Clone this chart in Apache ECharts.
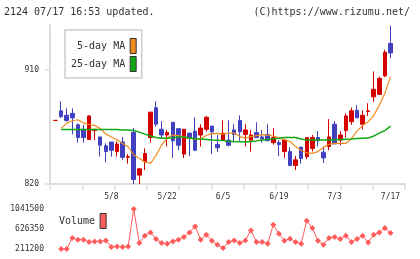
<!DOCTYPE html>
<html>
<head>
<meta charset="utf-8">
<script src="https://cdn.jsdelivr.net/npm/echarts@6/dist/echarts.min.js"></script>
<style>
html, body { margin: 0; padding: 0; background: #fff; }
#chart { width: 420px; height: 259px; }
</style>
</head>
<body>
<div id="chart"></div>
<script>
// trading days shown on the chart
const dates = ['4/21', '4/22', '4/23', '4/24', '4/25', '4/28', '4/30', '5/1', '5/2', '5/7',
  '5/8', '5/9', '5/12', '5/13', '5/14', '5/15', '5/16', '5/19', '5/20', '5/21',
  '5/22', '5/23', '5/26', '5/27', '5/28', '5/29', '5/30', '6/2', '6/3', '6/4',
  '6/5', '6/6', '6/9', '6/10', '6/11', '6/12', '6/13', '6/16', '6/17', '6/18',
  '6/19', '6/20', '6/23', '6/24', '6/25', '6/26', '6/27', '6/30', '7/1', '7/2',
  '7/3', '7/4', '7/7', '7/8', '7/9', '7/10', '7/11', '7/14', '7/15', '7/16', '7/17']
const dateLabels = ['5/8', '5/22', '6/5', '6/19', '7/3', '7/17']

// [open, close, low, high]
const ohlc = [
  [870, 870, 870, 870], [877.5, 873, 872, 885], [874, 870, 869, 879.5], [875.5, 872, 859, 879.5],
  [866.5, 856.5, 852.5, 867.5], [863, 856.5, 852.5, 866.5], [855, 873.5, 855, 874], [862, 863, 854.5, 863],
  [857, 850.5, 841.5, 857], [850, 845.5, 837, 852], [853, 846.5, 841.5, 853], [845.5, 851.5, 841.5, 853.5],
  [853, 841, 839, 857], [841, 841.5, 836, 843.5], [860.5, 823.5, 820, 864], [827, 832, 820, 832],
  [837.5, 844, 831, 848], [856.5, 876.5, 852.5, 876.5], [880, 867, 865, 885], [863, 858.5, 856, 869.5],
  [858.5, 860.5, 849.5, 862.5], [868.5, 854, 840.5, 868.5], [863.5, 850.5, 846.5, 863.5], [843.5, 863, 840.5, 863],
  [860, 856, 842, 860], [861.5, 846.5, 846.5, 872.5], [858.5, 864, 849.5, 867], [863, 872.5, 861, 873.5],
  [865.5, 861, 843.5, 865.5], [851, 848.5, 845, 858.5], [854.5, 860, 854.5, 870], [854.5, 850.5, 849.5, 870],
  [862.5, 859, 852.5, 867], [870, 861, 854, 874], [859, 862.5, 849.5, 867], [854.5, 858.5, 845.5, 862.5],
  [860.5, 856.5, 856.5, 868.5], [857, 855.5, 852.5, 862.5], [859, 854, 854, 867], [852.5, 856.5, 851, 864],
  [852.5, 851, 842, 854.5], [845.5, 854.5, 840.5, 854.5], [845.5, 834.5, 834.5, 849], [834.5, 839, 831, 842],
  [849, 840, 836, 849], [841.5, 856.5, 839.5, 856.5], [848, 856.5, 845.5, 858.5], [856.5, 854, 849.5, 861.5],
  [845, 840.5, 836.5, 849.5], [849.5, 857, 846.5, 871], [867, 851.5, 851.5, 869.5], [854.5, 858.5, 850.5, 861.5],
  [862, 873.5, 856.5, 875.5], [869, 877.5, 866.5, 880], [878, 872, 872, 882], [867, 874, 863, 878],
  [877, 877.5, 873.5, 883.5], [888.5, 894.5, 884.5, 908.5], [890.5, 903, 890, 904.5], [905, 923.5, 904, 925.5],
  [930.5, 923, 919, 944.5]
]

const ma5 = [null, 863.7, 867.9, 869.7, 870.5, 868.1, 866.8, 866.1, 863.7, 859.2,
  856.9, 854.8, 851.9, 849.3, 842.8, 840.2, 837.3, 836.2, 842.4, 850.6,
  856.1, 858.5, 858.1, 856.9, 856.1, 855.3, 855.7, 858.1, 859.6, 859.8,
  859.2, 860, 860, 857.3, 856.1, 857.3, 858.1, 858.8, 858.5, 857.7,
  856.3, 854.9, 853.4, 849.4, 846.3, 844.5, 844.1, 845.5, 849, 851.2,
  851.9, 851.9, 851.9, 855.7, 861.6, 865.9, 868.9, 873.8, 882, 891.4, 904.4]

const ma25 = [null, 862.8, 862.8, 862.8, 862.8, 862.8, 862.8, 862.8, 862.8, 862.8,
  862.8, 862.8, 862.5, 862.4, 862, 860.8, 859.2, 857.7, 856.6, 855.9,
  855.9, 856.3, 856.9, 856.9, 856.1, 855.5, 855.3, 854.9, 854.5, 854.4,
  854.1, 853.7, 853.4, 853.2, 853, 853.5, 853.9, 854.5, 854.9, 855.5,
  855.9, 856.5, 856.6, 856.5, 855.3, 854.5, 854.5, 854.5, 854.5, 854.5,
  854.5, 854.9, 855.2, 855.3, 855.7, 855.9, 856.1, 857.7, 860, 862, 865.5]

const volume = [null, 211200, 211200, 439500, 404200, 404200, 356500, 369000, 369000, 389700,
  252700, 265200, 252700, 265200, 1041500, 335700, 487300, 555800, 418800, 335700,
  321200, 369000, 404200, 460300, 555800, 680300, 404200, 508000, 383500, 300500,
  232000, 356500, 389700, 335700, 389700, 597300, 356500, 356500, 321200, 715600,
  528800, 383500, 425000, 356500, 321200, 798600, 647100, 383500, 300500, 439500,
  460300, 418800, 487300, 356500, 418800, 487300, 348200, 508000, 555800, 647100, 543300]

const priceTicks = [820, 910]
const volumeTicks = [211200, 626350, 1041500]

const mono = 'DejaVu Sans Mono'
const red = '#d40000'
const blue = '#4040c0'
const orange = '#f08c1e'
const green = '#10a810'
const volColor = '#ff5c5c'

// x is a value axis so the candle spacing can match the original
const xMin = -1
const xMax = 62.6
const xTickValues = []
for (let k = 0; k <= 11; k++) {
  xTickValues.push(xMin + (xMax - xMin) * k / 11)
}
const dateIdx = dateLabels.map(d => dates.indexOf(d))

const toXY = arr => arr.map((v, i) => [i, v]).filter(p => p[1] !== null)

const chart = echarts.init(document.getElementById('chart'))
const option = {
  animation: false,
  textStyle: { fontFamily: mono },
  title: [{
    text: '2124 07/17 16:53 updated.',
    left: 4,
    top: 7,
    padding: 0,
    textStyle: { fontFamily: mono, fontSize: 10, fontWeight: 'normal', color: '#333' }
  }, {
    text: '(C)https://www.rizumu.net/',
    right: 10,
    top: 7,
    padding: 0,
    textStyle: { fontFamily: mono, fontSize: 10, fontWeight: 'normal', color: '#333' }
  }],
  legend: [{
    data: ['5-day MA', '25-day MA'],
    orient: 'vertical',
    align: 'right',
    left: 65,
    top: 30,
    icon: 'rect',
    itemWidth: 6,
    itemHeight: 15,
    itemGap: 2,
    padding: [8, 5, 6, 6],
    borderColor: '#ccc',
    borderWidth: 1.5,
    backgroundColor: '#fff',
    itemStyle: { borderColor: '#333', borderWidth: 1 },
    textStyle: { fontFamily: mono, fontSize: 10, color: '#333' }
  }, {
    data: ['Volume'],
    align: 'right',
    left: 59,
    top: 213,
    icon: 'rect',
    itemWidth: 6,
    itemHeight: 15,
    padding: 0,
    itemStyle: { borderColor: '#333', borderWidth: 1 },
    textStyle: { fontFamily: mono, fontSize: 10, color: '#333' }
  }],
  grid: [{
    left: 50, right: 15, top: 25, bottom: 75, outerBoundsMode: 'none'
  }, {
    left: 50, right: 15, top: 209, bottom: 10, outerBoundsMode: 'none'
  }],
  xAxis: [{
    type: 'value',
    gridIndex: 0,
    min: xMin,
    max: xMax,
    axisLine: { onZero: false, lineStyle: { color: '#ddd', width: 2 } },
    axisTick: { customValues: xTickValues, length: 6, lineStyle: { color: '#ddd', width: 1.5 } },
    axisLabel: {
      customValues: dateIdx,
      formatter: v => dates[Math.round(v)],
      margin: 9,
      fontFamily: mono,
      fontSize: 8,
      color: '#333'
    },
    splitLine: { show: false }
  }, {
    type: 'value',
    gridIndex: 1,
    min: xMin,
    max: xMax,
    show: false
  }],
  yAxis: [{
    type: 'value',
    gridIndex: 0,
    min: 820,
    max: 945,
    axisLine: { show: true, onZero: false, lineStyle: { color: '#ddd', width: 2 } },
    axisTick: { show: true, customValues: priceTicks, length: 5, lineStyle: { color: '#ddd', width: 1.5 } },
    axisLabel: { customValues: priceTicks, margin: 11, fontFamily: mono, fontSize: 8, color: '#333' },
    splitLine: { show: false }
  }, {
    type: 'value',
    gridIndex: 1,
    min: 211200,
    max: 1041500,
    axisLine: { show: false, onZero: false },
    axisTick: { show: false },
    axisLabel: {
      customValues: volumeTicks,
      formatter: v => String(v),
      margin: 6,
      fontFamily: mono,
      fontSize: 8,
      color: '#333'
    },
    splitLine: { show: false }
  }],
  series: [{
    name: 'price',
    type: 'candlestick',
    xAxisIndex: 0,
    yAxisIndex: 0,
    barWidth: 4,
    itemStyle: {
      color: red,
      color0: blue,
      borderColor: red,
      borderColor0: blue,
      borderColorDoji: red,
      borderWidth: 1
    },
    data: ohlc.map((d, i) => [i].concat(d))
  }, {
    name: '5-day MA',
    type: 'line',
    xAxisIndex: 0,
    yAxisIndex: 0,
    showSymbol: false,
    color: orange,
    lineStyle: { color: orange, width: 1.2 },
    data: toXY(ma5)
  }, {
    name: '25-day MA',
    type: 'line',
    xAxisIndex: 0,
    yAxisIndex: 0,
    showSymbol: false,
    color: green,
    lineStyle: { color: green, width: 1.5 },
    data: toXY(ma25)
  }, {
    name: 'Volume',
    type: 'line',
    xAxisIndex: 1,
    yAxisIndex: 1,
    symbol: 'diamond',
    symbolSize: 6,
    clip: false,
    color: volColor,
    itemStyle: { color: volColor },
    lineStyle: { color: volColor, width: 1 },
    data: toXY(volume)
  }]
}
chart.setOption(option)
</script>
</body>
</html>
